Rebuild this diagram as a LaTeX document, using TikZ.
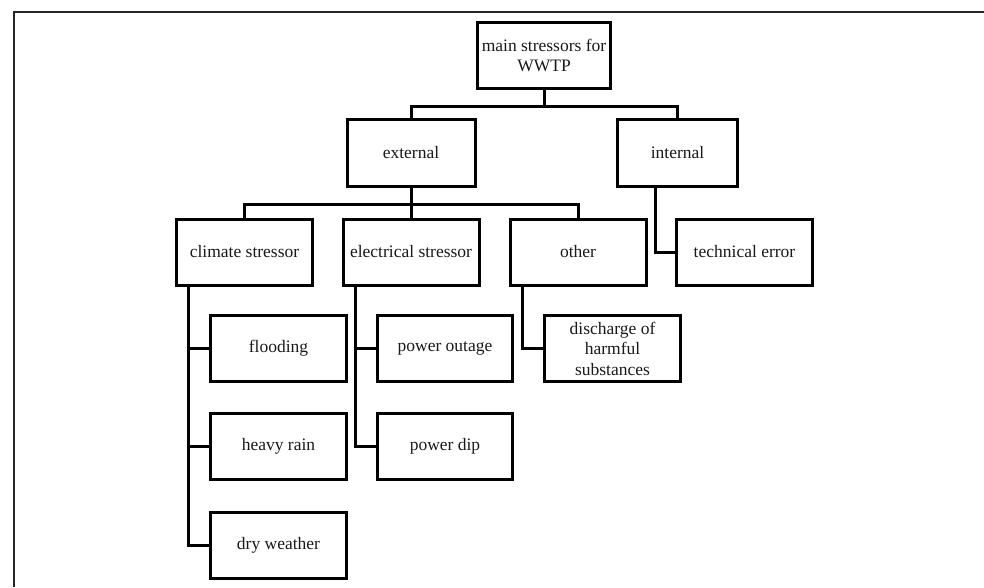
\documentclass[tikz,border=0pt]{standalone}
\usepackage{fontspec}
\setmainfont{Liberation Serif}

\begin{document}
\begin{tikzpicture}[x=1pt,y=-1pt,
    box/.style={draw,line width=3pt,minimum width=136pt,minimum height=66pt,inner sep=2pt,
      align=center,text=black!90,font=\fontsize{17.5}{20.5}\selectfont},
    link/.style={line width=3pt}]
  \useasboundingbox (0,0) rectangle (984,587);
  \draw[line width=1.3pt,black!85] (14,587)--(14,12)--(984,12);%frame
  % top levels
  \node[box,minimum width=124pt,inner xsep=4pt] (main) at (544,55.5) {main stressors for\\WWTP};
  \node[box,minimum width=128pt,minimum height=67pt] (ext) at (411,153) {external};
  \node[box,minimum width=120pt,minimum height=67pt] (int) at (677.5,153) {internal};
  \node[box] (clim) at (244.5,252) {climate stressor};
  \node[box] (elec) at (411,252) {electrical stressor};
  \node[box] (oth) at (578,252) {other};
  \node[box] (tech) at (744.5,252) {technical error};
  % leaves
  \node[box] (flood) at (278.5,348.5) {flooding};
  \node[box] (rain) at (278.5,446.5) {heavy rain};
  \node[box] (dry) at (278.5,545) {dry weather};
  \node[box,minimum width=135pt] (outage) at (445,348.5) {power outage};
  \node[box,minimum width=135pt] (dip) at (445,446.5) {power dip};
  \node[box] (disch) at (612.5,348.5) {discharge of\\harmful\\substances};
  % links
  \draw[link] (main.south)--++(0,16)-|(ext.north);
  \draw[link] (main.south)--++(0,16)-|(int.north);
  \draw[link] (ext.south)--++(0,16)-|(clim.north);
  \draw[link] (ext.south)--++(0,16)-|(elec.north);
  \draw[link] (ext.south)--++(0,16)-|(oth.north);
  \draw[link] ([xshift=-22.5pt]int.south)|-(tech.west);
  \draw[link] ([xshift=13.5pt]clim.south west)|-(flood.west);
  \draw[link] ([xshift=13.5pt]clim.south west)|-(rain.west);
  \draw[link] ([xshift=13.5pt]clim.south west)|-(dry.west);
  \draw[link] ([xshift=13.5pt]elec.south west)|-(outage.west);
  \draw[link] ([xshift=13.5pt]elec.south west)|-(dip.west);
  \draw[link] ([xshift=13.5pt]oth.south west)|-(disch.west);
\end{tikzpicture}
\end{document}
